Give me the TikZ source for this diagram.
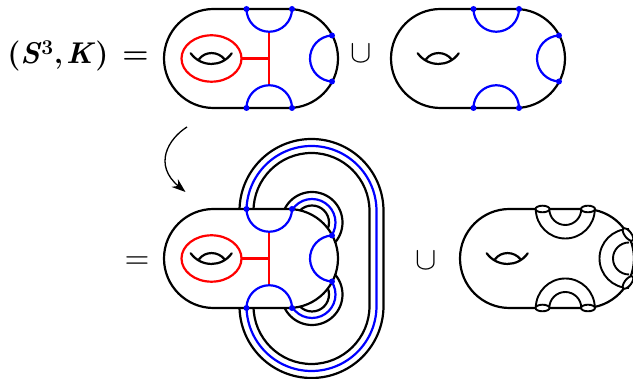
\documentclass[tikz,border=0pt]{standalone}
\usetikzlibrary{arrows.meta}
\tikzset{
  blk/.style={draw=black,line width=2.2pt},
  thinblk/.style={draw=black,line width=1.9pt},
  blu/.style={draw=blue,line width=2.2pt},
  rd/.style={draw=red,line width=2.2pt},
  bdot/.style={fill=blue,draw=none},
  eqlabel/.style={inner sep=0pt,anchor=center,font=\fontsize{30}{36}\selectfont},
  symlabel/.style={inner sep=0pt,anchor=center,scale=3.2,transform shape}
}
\newcommand{\bodyshape}{%
  \path[blk,fill=white,line join=round] (-37.5,49.5) -- (37.5,49.5) arc[start angle=90,end angle=-90,radius=49.5]
     -- (-37.5,-49.5) arc[start angle=270,end angle=90,radius=49.5] -- cycle;
}
\newcommand{\holeshape}{%
  \draw[blk,line cap=round] (-60.3,5.2) .. controls (-50,-9) and (-29,-9) .. (-19.3,5.2);
  \draw[blk] (-52,-0.8) .. controls (-46,7.5) and (-33,7.5) .. (-26.5,-0.8);
}
\newcommand{\bluearcs}{%
  \draw[blu] (-4.5,49.5) arc[start angle=180,end angle=360,radius=22.75];
  \draw[blu] (-4.5,-49.5) arc[start angle=180,end angle=0,radius=22.75];
  \draw[blu] (81,23) arc[start angle=92.5,end angle=267.5,radius=23];
  \foreach \pp in {(-4.5,49.5),(41,49.5),(-4.5,-49.5),(41,-49.5),(81,23),(81,-23)}
    \fill[bdot] \pp circle[radius=3];
}
\newcommand{\redgraph}{%
  \draw[rd] (-39.5,0) ellipse[x radius=30,y radius=23.2];
  \draw[rd] (-9.5,0) -- (18,0);
  \draw[rd] (18,26.75) -- (18,-26.75);
}
\begin{document}
\begin{tikzpicture}[x=1pt,y=1pt]
\path[use as bounding box] (0,0) rectangle (633,379);
\node[eqlabel] (lhs) at (78,323) {\bfseries (\textit{S}\textsuperscript{3},\hspace{3pt}\textit{K})\hspace{14pt}=};
\node[symlabel] (cupa) at (361,325) {$\cup$};
\node[symlabel] (eqb) at (137,116) {$=$};
\node[symlabel] (cupb) at (426,118) {$\cup$};
\coordinate (arrs) at (187,252);
\coordinate (arre) at (185.5,187);
\draw[line width=1.3pt,-{Stealth[length=14pt,width=10pt]}] (arrs) .. controls (168,240) and (153,214) .. (arre);
\begin{scope}[shift={(251,320.5)}]
  \bodyshape \holeshape \redgraph \bluearcs
\end{scope}
\begin{scope}[shift={(478,320.5)}]
  \bodyshape \holeshape \bluearcs
\end{scope}
\draw[blk] (239.5,168) arc[start angle=180,end angle=0,radius=72] -- (383.5,73) arc[start angle=0,end angle=-180,radius=72];
\draw[blu] (246.5,168) arc[start angle=180,end angle=0,radius=65] -- (376.5,73) arc[start angle=0,end angle=-180,radius=65];
\draw[blk] (253.5,168) arc[start angle=180,end angle=0,radius=58] -- (369.5,73) arc[start angle=0,end angle=-180,radius=58];
\foreach \cc in {(312,156.5),(312,84.5)}{
  \draw[blk] \cc circle[radius=30.5];
  \draw[blu] \cc circle[radius=23.5];
  \draw[blk] \cc circle[radius=17];
}
\begin{scope}[shift={(251,120.5)}]
  \bodyshape \holeshape \redgraph \bluearcs
\end{scope}
\begin{scope}[shift={(547,120.5)}]
  \bodyshape \holeshape
  \draw[thinblk] (-11.2,49.5) arc[start angle=180,end angle=360,radius=29.5];
  \draw[thinblk] (2.3,49.5) arc[start angle=180,end angle=360,radius=16];
  \draw[thinblk] (-11.2,-49.5) arc[start angle=180,end angle=0,radius=29.5];
  \draw[thinblk] (2.3,-49.5) arc[start angle=180,end angle=0,radius=16];
  \draw[thinblk] (82,29.5) arc[start angle=90,end angle=270,radius=29.5];
  \draw[thinblk] (82,16) arc[start angle=90,end angle=270,radius=16];
  \foreach \pp in {(-4.5,49.5),(41,49.5),(-4.5,-49.5),(41,-49.5)}
    \draw[thinblk,fill=white] \pp ellipse[x radius=7,y radius=3.3];
  \draw[thinblk,fill=white,rotate around={-52:(81,24)}] (81,24) ellipse[x radius=7.5,y radius=3.3];
  \draw[thinblk,fill=white,rotate around={52:(81,-24)}] (81,-24) ellipse[x radius=7.5,y radius=3.3];
\end{scope}
\end{tikzpicture}
\end{document}
